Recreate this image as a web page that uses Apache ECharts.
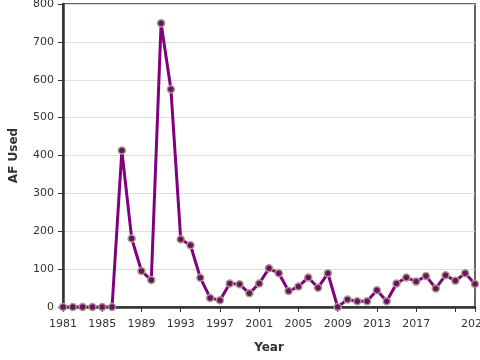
<!DOCTYPE html>
<html>
<head>
<meta charset="utf-8">
<script src="https://cdn.jsdelivr.net/npm/echarts@6/dist/echarts.min.js"></script>
<style>html,body{margin:0;padding:0;background:#fff;}#c{width:480px;height:360px;}</style>
</head>
<body>
<div id="c"></div>
<script>
const years = ['1981','1982','1983','1984','1985','1986','1987','1988','1989','1990','1991','1992','1993','1994','1995','1996','1997','1998','1999','2000','2001','2002','2003','2004','2005','2006','2007','2008','2009','2010','2011','2012','2013','2014','2015','2016','2017','2018','2019','2020','2021','2022','2023'];
const afUsed = [0,0,0,0,0,0,413,181,95,71,749,575,179,163,77,24,18,62,60,36,62,102,89,42,54,78,51,89,0,20,15,15,44,15,62,78,67,82,49,84,69,89,61];
const yTicks = {min: 0, max: 800, step: 100};
const xAxisTitle = 'Year';
const yAxisTitle = 'AF Used';

const chart = echarts.init(document.getElementById('c'), null, {renderer: 'canvas'});
const lastIdx = years.length - 1;
const showLabel = (i) => (i % 4 === 0 && i !== 40) || i === lastIdx;
chart.setOption({
  animation: false,
  backgroundColor: '#fff',
  grid: {left: 63, right: 5, top: 4, bottom: 53, containLabel: false, outerBoundsMode: 'none', show: true, borderColor: '#333', borderWidth: 1.5, backgroundColor: 'transparent'},
  xAxis: {
    type: 'category',
    data: years,
    boundaryGap: false,
    name: xAxisTitle,
    nameLocation: 'middle',
    nameGap: 35,
    nameTextStyle: {fontFamily: 'DejaVu Sans', fontSize: 12, fontWeight: 'bold', color: '#333'},
    axisLine: {lineStyle: {color: '#333', width: 2.5}},
    axisTick: {alignWithLabel: true, length: 5, lineStyle: {color: '#333', width: 1}, interval: (i) => i % 4 === 0 || i === lastIdx},
    axisLabel: {interval: (i) => showLabel(i), margin: 12, fontFamily: 'DejaVu Sans', fontSize: 11, color: '#333'},
    splitLine: {show: false}
  },
  yAxis: {
    type: 'value',
    min: yTicks.min,
    max: yTicks.max,
    interval: yTicks.step,
    name: yAxisTitle,
    nameLocation: 'middle',
    nameGap: 43,
    nameTextStyle: {fontFamily: 'DejaVu Sans', fontSize: 12, fontWeight: 'bold', color: '#333'},
    axisLine: {show: true, lineStyle: {color: '#333', width: 2.5}},
    axisTick: {show: true, length: 5, lineStyle: {color: '#333', width: 1}},
    axisLabel: {margin: 9, fontFamily: 'DejaVu Sans', fontSize: 11, color: '#333'},
    splitLine: {show: true, lineStyle: {color: '#ddd', width: 1}}
  },
  series: [{
    type: 'line',
    data: afUsed,
    symbol: 'circle',
    symbolSize: 7,
    showAllSymbol: true,
    lineStyle: {color: '#800080', width: 3},
    itemStyle: {color: '#6b0f68', borderColor: '#a8a082', borderWidth: 1.5},
    z: 3
  }]
});
</script>
</body>
</html>
